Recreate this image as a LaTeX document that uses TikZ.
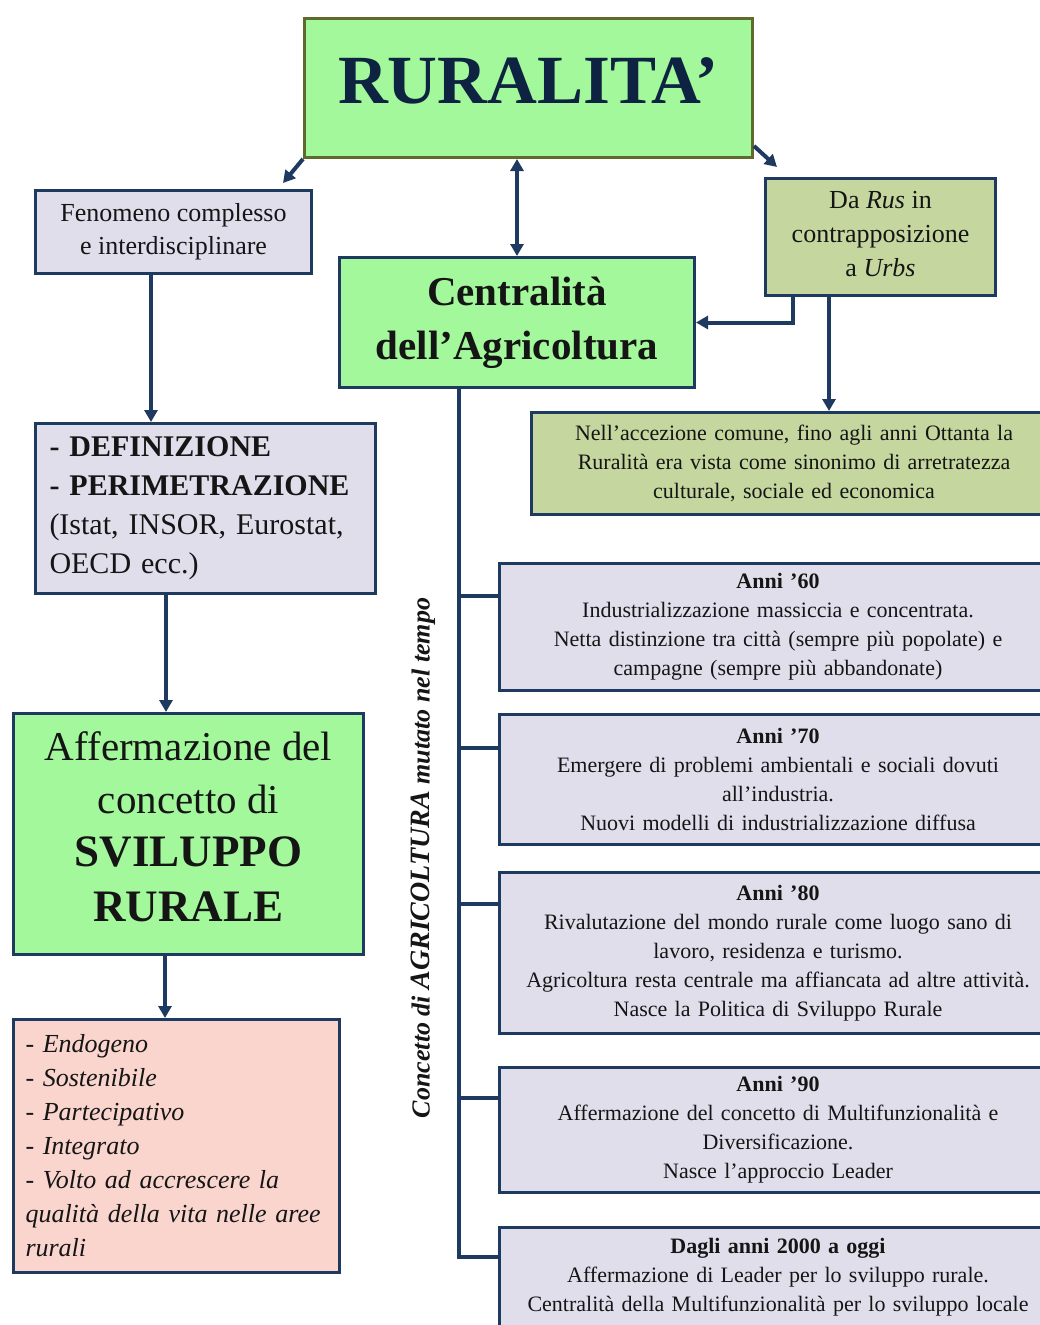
\documentclass[tikz,border=0pt]{standalone}
\usepackage{fontspec}
\setmainfont{Liberation Serif}
\usetikzlibrary{arrows.meta}
\definecolor{gfill}{HTML}{A3F89B}
\definecolor{lavfill}{HTML}{E1DEEC}
\definecolor{olfill}{HTML}{C5D79E}
\definecolor{pinkfill}{HTML}{F9D5CE}
\definecolor{navy}{HTML}{1F3A60}
\definecolor{olbd}{HTML}{5F6B2E}
\definecolor{titlec}{HTML}{0E2341}
\definecolor{txt}{HTML}{151515}
\tikzset{
  box/.style={draw=navy, line width=3pt, anchor=north west, inner sep=0pt, align=center, text=txt},
  conn/.style={draw=navy, line width=4pt},
  arr/.style={conn, -{Triangle[length=12pt,width=13pt]}},
  dbl/.style={conn, {Triangle[length=12pt,width=13pt]}-{Triangle[length=12pt,width=13pt]}},
  period/.style={box, fill=lavfill, minimum width=557pt, text width=545pt, font=\fontsize{22}{29}\selectfont}
}
\begin{document}
\begin{tikzpicture}[x=1pt,y=-1pt]
\useasboundingbox (0,0) rectangle (1040,1325);
\clip (0,0) rectangle (1040,1325);
\fill[white] (0,0) rectangle (1040,1325);

\node[box, draw=olbd, fill=gfill, minimum width=448pt, minimum height=139pt, text=titlec,
  font=\bfseries\fontsize{69}{72}\selectfont] (rur) at (303,17) {RURALITA’\vphantom{g}};

\node[box, fill=lavfill, minimum width=276pt, minimum height=83pt,
  font=\fontsize{26}{33}\selectfont] (fen) at (34,189) {Fenomeno complesso\\e interdisciplinare};

\node[box, fill=olfill, minimum width=230pt, minimum height=117pt,
  font=\fontsize{26}{34}\selectfont] (rus) at (764,177) {Da \textit{Rus} in\\contrapposizione\\a \textit{Urbs}\rule[-6pt]{0pt}{0pt}};

\node[box, fill=gfill, minimum width=355pt, minimum height=130pt,
  font=\bfseries\fontsize{41}{54}\selectfont] (cen) at (338,256) {Centralità\\dell’Agricoltura\vphantom{g}};

\node[box, fill=olfill, minimum width=525pt, minimum height=102pt, text width=515pt,
  font=\fontsize{22}{29}\selectfont] (nell) at (530,411) {Nell’accezione comune, fino agli anni Ottanta la\\Ruralità era vista come sinonimo di arretratezza\\culturale, sociale ed economica};

\node[box, fill=lavfill, minimum width=340pt, minimum height=170pt, text width=312pt, inner xsep=14pt, align=left,
  font=\fontsize{30}{39}\selectfont] (def) at (34,422) {\textbf{- DEFINIZIONE}\\\textbf{- PERIMETRAZIONE}\\(Istat, INSOR, Eurostat,\\OECD ecc.)};

\node[box, fill=gfill, minimum width=350pt, minimum height=241pt,
  font=\fontsize{41}{53}\selectfont] (aff) at (12,712) {Affermazione del\\concetto di\\{\bfseries\fontsize{45}{53}\selectfont SVILUPPO}\\[2pt]{\bfseries\fontsize{45}{53}\selectfont RURALE}\rule[-15pt]{0pt}{0pt}};

\node[box, fill=pinkfill, minimum width=326pt, minimum height=253pt, text width=302pt, inner xsep=12pt, align=left,
  font=\itshape\fontsize{26}{34}\selectfont] (lst) at (12,1018) {- Endogeno\\- Sostenibile\\- Partecipativo\\- Integrato\\- Volto ad accrescere la\\qualità della vita nelle aree\\rurali};

\node[period, minimum height=127pt] (a60) at (498,562) {\textbf{Anni ’60}\\Industrializzazione massiccia e concentrata.\\Netta distinzione tra città (sempre più popolate) e\\campagne (sempre più abbandonate)};
\node[period, minimum height=130pt] (a70) at (498,713) {\textbf{Anni ’70}\\Emergere di problemi ambientali e sociali dovuti\\all’industria.\\Nuovi modelli di industrializzazione diffusa};
\node[period, minimum height=161pt] (a80) at (498,871) {\textbf{Anni ’80}\\Rivalutazione del mondo rurale come luogo sano di\\lavoro, residenza e turismo.\\Agricoltura resta centrale ma affiancata ad altre attività.\\Nasce la Politica di Sviluppo Rurale};
\node[period, minimum height=125pt] (a90) at (498,1066) {\textbf{Anni ’90}\\Affermazione del concetto di Multifunzionalità e\\Diversificazione.\\Nasce l’approccio Leader};
\node[period, minimum height=100pt] (a00) at (498,1226) {\textbf{Dagli anni 2000 a oggi}\\Affermazione di Leader per lo sviluppo rurale.\\Centralità della Multifunzionalità per lo sviluppo locale};

\node[rotate=90, text=txt, font=\bfseries\itshape] (rot) at (423,858)
  {{\fontsize{26}{26}\selectfont Concetto di }{\fontsize{28}{28}\selectfont AGRICOLTURA}{\fontsize{26}{26}\selectfont\ mutato nel tempo}};

% connectors
\draw[arr] (rur.south west) -- ([xshift=-30pt,yshift=6pt]fen.north east);
\draw[arr] ([yshift=13pt]rur.south east) -- ([xshift=13pt,yshift=10pt]rus.north west);
\draw[dbl] (cen.north |- rur.south) -- (cen.north);
\draw[arr] ([xshift=29pt]rus.south west) |- (cen.east);
\draw[arr] ([xshift=65pt]rus.south west) -- ([xshift=65pt]rus.south west |- nell.north);
\draw[arr] ([xshift=117pt]fen.south west) -- ([xshift=117pt]fen.south west |- def.north);
\draw[arr] ([xshift=132pt]def.south west) -- ([xshift=132pt]def.south west |- aff.north);
\draw[arr] ([xshift=153pt]aff.south west) -- ([xshift=153pt]aff.south west |- lst.north);

\coordinate (trunk) at ([xshift=121pt]cen.south west);
\draw[conn, line join=miter] (trunk) |- ([yshift=-31pt]a00.north west);
\draw[conn] ([yshift=-34pt]trunk |- a60.north west) -- ([yshift=-34pt]a60.north west);
\draw[conn] ([yshift=-35pt]trunk |- a70.north west) -- ([yshift=-35pt]a70.north west);
\draw[conn] ([yshift=-33pt]trunk |- a80.north west) -- ([yshift=-33pt]a80.north west);
\draw[conn] ([yshift=-32pt]trunk |- a90.north west) -- ([yshift=-32pt]a90.north west);
\end{tikzpicture}
\end{document}
